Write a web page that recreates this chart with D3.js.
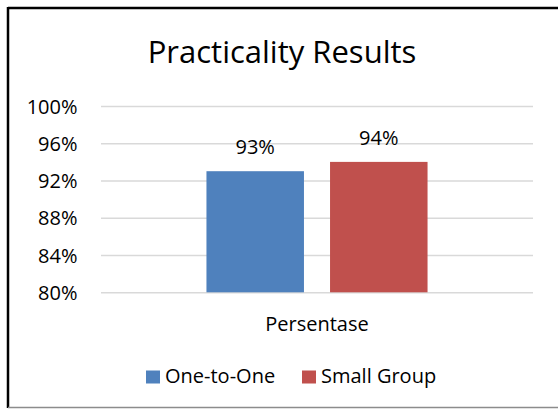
<!DOCTYPE html>
<html>
<head>
<meta charset="utf-8">
<script src="https://cdn.jsdelivr.net/npm/d3@7"></script>
<style>
  html, body { margin: 0; padding: 0; background: #fff; overflow: hidden; }
  svg { display: block; font-family: "Open Sans", sans-serif; }
</style>
</head>
<body>
<script>
const categories = ['Persentase'];
const series = ['One-to-One', 'Small Group'];
const values = [0.93, 0.94];
const ticks = [0.80, 0.84, 0.88, 0.92, 0.96, 1.00];
const colors = ['#4F81BD', '#C0504D'];

const W = 558, H = 415;
const plot = { left: 101, right: 533, top: 106, bottom: 292.3 };
const font = '"Open Sans", sans-serif';

const svg = d3.select('body').append('svg')
  .attr('width', W)
  .attr('height', H);

// chart frame (right edge is cropped off in the picture)
svg.append('line').attr('x1', 8).attr('x2', W).attr('y1', 8).attr('y2', 8)
  .attr('stroke', '#000').attr('stroke-width', 2.5);
svg.append('line').attr('x1', 8).attr('x2', 8).attr('y1', 7).attr('y2', 408)
  .attr('stroke', '#000').attr('stroke-width', 2.5);
svg.append('line').attr('x1', 8).attr('x2', W).attr('y1', 407.5).attr('y2', 407.5)
  .attr('stroke', '#8c8c8c').attr('stroke-width', 1.5);

svg.append('text')
  .attr('x', 282).attr('y', 63)
  .attr('text-anchor', 'middle')
  .attr('font-size', 31)
  .attr('fill', '#000')
  .text('Practicality Results');

const y = d3.scaleLinear().domain([0.80, 1.00]).range([plot.bottom, plot.top]);
const x0 = d3.scaleBand().domain(categories).range([plot.left, plot.right]).paddingInner(0).paddingOuter(0.477);
const x1 = d3.scaleBand().domain(series).range([0, x0.bandwidth()]).paddingInner(0.211).paddingOuter(0);

const fmt = d3.format('.0%');

// gridlines + tick labels
const yAxis = d3.axisLeft(y).tickValues(ticks).tickFormat(fmt)
  .tickSize(-(plot.right - plot.left)).tickPadding(23.5);
const ga = svg.append('g')
  .attr('transform', `translate(${plot.left},0)`)
  .call(yAxis);
ga.select('.domain').remove();
ga.selectAll('.tick line').attr('stroke', '#D9D9D9').attr('stroke-width', 1.5);
ga.selectAll('.tick text')
  .attr('font-size', 20).attr('fill', '#000').attr('font-family', font)
  .attr('dy', '0.35em');

// bars and data labels
const grp = svg.append('g');
series.forEach((s, i) => {
  const bx = x0(categories[0]) + x1(s);
  grp.append('rect')
    .attr('x', bx)
    .attr('y', y(values[i]))
    .attr('width', x1.bandwidth())
    .attr('height', y(0.80) - y(values[i]))
    .attr('fill', colors[i]);
  grp.append('text')
    .attr('x', bx + x1.bandwidth() / 2)
    .attr('y', y(values[i]) - 17)
    .attr('text-anchor', 'middle')
    .attr('font-size', 20)
    .attr('fill', '#000')
    .text(fmt(values[i]));
});

// category label
svg.append('text')
  .attr('x', x0(categories[0]) + x0.bandwidth() / 2)
  .attr('y', 331)
  .attr('text-anchor', 'middle')
  .attr('font-size', 20)
  .attr('fill', '#000')
  .text(categories[0]);

// legend
const legendX = [146, 302];
const lg = svg.append('g');
series.forEach((s, i) => {
  lg.append('rect')
    .attr('x', legendX[i]).attr('y', 370.5)
    .attr('width', 14).attr('height', 13)
    .attr('fill', colors[i]);
  lg.append('text')
    .attr('x', legendX[i] + 19).attr('y', 383)
    .attr('font-size', 20)
    .attr('fill', '#000')
    .text(s);
});
</script>
</body>
</html>
